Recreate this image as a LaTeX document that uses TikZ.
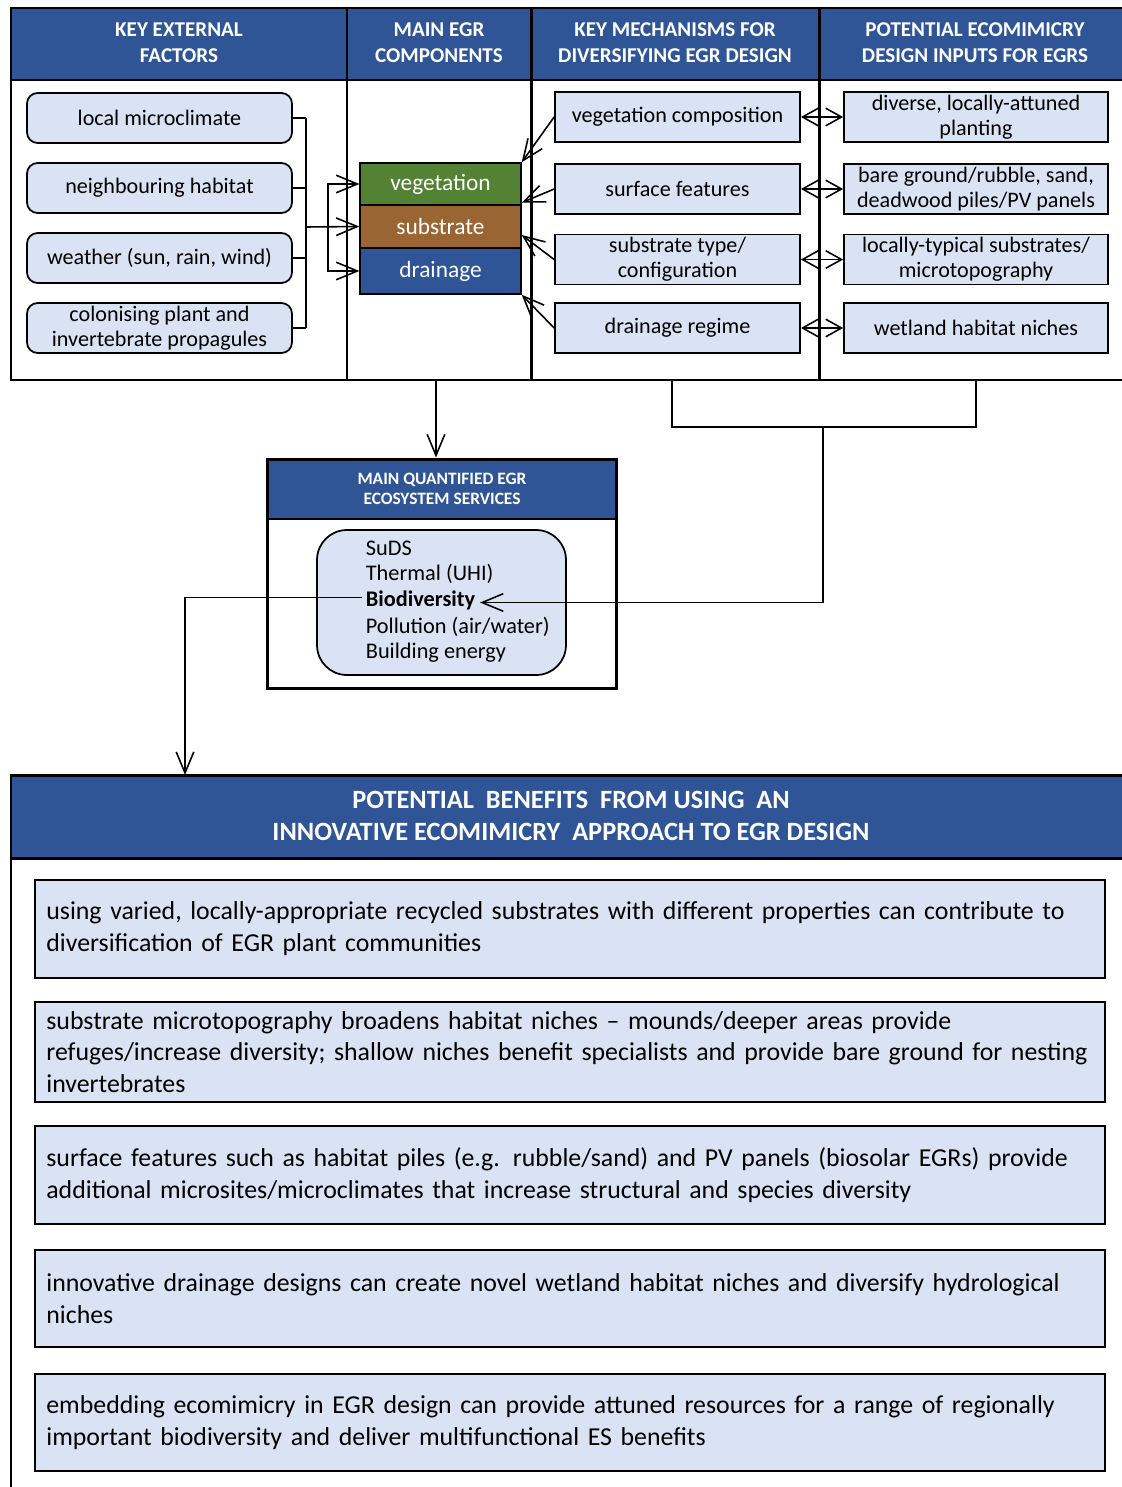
\documentclass[tikz,border=0pt]{standalone}
\usepackage{fontspec}
\setmainfont{Carlito}
\usetikzlibrary{arrows.meta}
\definecolor{hdrblue}{RGB}{47,85,151}
\definecolor{boxblue}{RGB}{218,227,243}
\definecolor{veggreen}{RGB}{84,130,53}
\definecolor{subbrown}{RGB}{153,102,51}
\begin{document}
\begin{tikzpicture}[x=0.02cm,y=-0.02cm,
    frame/.style={line width=1.7pt},
    hdr/.style={text=white,align=center,font=\bfseries\fontsize{12}{14.7}\selectfont},
    factor/.style={draw,line width=1pt,fill=boxblue,rounded corners=6pt,minimum width=5.3cm,minimum height=1cm,align=center,inner sep=1pt,font=\fontsize{12.6}{14.2}\selectfont},
    mech/.style={factor,rounded corners=0pt,minimum width=4.9cm},
    input/.style={mech,minimum width=5.28cm},
    comp/.style={draw,line width=0.8pt,minimum width=3.22cm,text=white,font=\fontsize{13.3}{14}\selectfont},
    benefit/.style={draw,line width=1pt,fill=boxblue,minimum width=21.4cm,text width=20.95cm,align=left,font=\fontsize{14.7}{18.1}\selectfont},
    estext/.style={anchor=west,inner sep=2pt,font=\fontsize{12.7}{14}\selectfont},
    arr/.style={line width=0.9pt,-{Straight Barb[length=12pt,width=10pt]}},
    dbl/.style={line width=0.9pt,{Straight Barb[length=9pt,width=10pt]}-{Straight Barb[length=9pt,width=10pt]}}
  ]
  \useasboundingbox (0,0) rectangle (1122,1487);
  \clip (0,0) rectangle (1122,1487);

  % top table
  \fill[hdrblue] (11,8) rectangle (1135,80);
  \draw[frame] (11,8) rectangle (1135,380);
  \draw[frame] (11,80) -- (1135,80);
  \foreach \x in {347,531,819}
    \draw[frame] (\x,8) -- (\x,380);

  \node[hdr] (h1) at (179,43) {KEY EXTERNAL\\FACTORS};
  \node[hdr] (h2) at (439,43) {MAIN EGR\\COMPONENTS};
  \node[hdr] (h3) at (675,43) {KEY MECHANISMS FOR\\DIVERSIFYING EGR DESIGN};
  \node[hdr] (h4) at (975,43) {POTENTIAL ECOMIMICRY\\DESIGN INPUTS FOR EGRS};

  % external factors
  \node[factor] (lm) at (159.5,118) {local microclimate};
  \node[factor] (nh) at (159.5,188) {neighbouring habitat};
  \node[factor] (ws) at (159.5,258) {weather (sun, rain, wind)};
  \node[factor] (cp) at (159.5,328) {colonising plant and\\invertebrate propagules};

  % components
  \node[comp,fill=veggreen,minimum height=0.84cm] (veg) at (440.5,184) {vegetation};
  \node[comp,fill=subbrown,minimum height=0.86cm] (sub) at (440.5,226.5) {substrate};
  \node[comp,fill=hdrblue,minimum height=0.92cm] (drn) at (440.5,271) {drainage};

  % mechanisms and design inputs
  \node[mech] (m1) at (677.5,117) {vegetation composition};
  \node[mech] (m2) at (677.5,189) {surface features};
  \node[mech] (m3) at (677.5,259.5) {substrate type/\\configuration};
  \node[mech] (m4) at (677.5,328) {drainage regime};
  \node[input] (d1) at (976,117) {diverse, locally-attuned\\planting};
  \node[input] (d2) at (976,189) {bare ground/rubble, sand,\\deadwood piles/PV panels};
  \node[input] (d3) at (976,259.5) {locally-typical substrates/\\microtopography};
  \node[input] (d4) at (976,328) {wetland habitat niches};

  % factors into components
  \coordinate (brk) at (306,227);
  \coordinate (split) at (328,227);
  \foreach \n in {lm,nh,ws,cp}
    \draw[line width=0.9pt] (\n.east) -- (\n.east -| brk);
  \draw[line width=0.9pt] (lm.east -| brk) -- (cp.east -| brk);
  \draw[arr] (brk) -- (sub.west);
  \draw[arr] (split) |- (veg.west);
  \draw[arr] (split) |- (drn.west);

  % mechanisms into components
  \draw[arr] (m1.west) -- (veg.north east);
  \draw[arr] (m2.west) -- ([yshift=0.06cm]veg.south east);
  \draw[arr] (m3.west) -- ([yshift=-0.17cm]sub.east);
  \draw[arr] (m4.west) -- (drn.south east);
  \foreach \i in {1,...,4}
    \draw[dbl] (m\i.east) -- (d\i.west);

  % ecosystem services
  \fill[hdrblue] (267,459) rectangle (617,519);
  \node[draw,line width=1.7pt,minimum width=7cm,minimum height=4.6cm] (esf) at (442,574) {};
  \draw[frame] (267,519) -- (617,519);
  \node[hdr,font=\bfseries\fontsize{9.9}{11.3}\selectfont] (esh) at (442,489) {MAIN QUANTIFIED EGR\\ECOSYSTEM SERVICES};
  \node[draw,line width=1pt,fill=boxblue,rounded corners=17pt,minimum width=4.98cm,minimum height=2.9cm] (esl) at (441.5,602.5) {};
  \node[estext] (suds) at (362,548) {SuDS};
  \node[estext] (uhi) at (362,574) {Thermal (UHI)};
  \node[estext] (bio) at (362,600) {\bfseries Biodiversity};
  \node[estext] (pol) at (362,627) {Pollution (air/water)};
  \node[estext] (nrg) at (362,653) {Building energy};

  \coordinate (cmp) at (436,380);
  \draw[arr] (cmp) -- (cmp |- esf.north);
  \coordinate (ml) at (672,380);
  \coordinate (mr) at (976,380);
  \coordinate (join) at (823,427);
  \draw[line width=0.9pt] (ml) |- (join) -| (mr);
  \draw[arr] (join) |- ([xshift=0.02cm,yshift=-0.05cm]bio.east);

  % benefits
  \fill[hdrblue] (11,775) rectangle (1135,858);
  \draw[frame] (11,1500) -- (11,775) -- (1135,775);
  \draw[frame] (11,858) -- (1135,858);
  \node[hdr,font=\bfseries\fontsize{15}{18}\selectfont] (bh) at (571,816) {POTENTIAL\ \ BENEFITS\ \ FROM USING\ \ AN\\INNOVATIVE ECOMIMICRY\ \ APPROACH TO EGR DESIGN};
  \coordinate (drop) at (185,775);
  \draw[arr] ([yshift=0.05cm]bio.west) -| (drop);

  \node[benefit,minimum height=1.96cm] (b1) at (570,929) {using varied, locally-appropriate recycled substrates with different properties can contribute to\\diversification of EGR plant communities};
  \node[benefit,minimum height=2cm] (b2) at (570,1052) {substrate microtopography broadens habitat niches – mounds/deeper\ areas provide\\refuges/increase diversity; shallow niches benefit specialists and provide bare ground for nesting\\invertebrates};
  \node[benefit,minimum height=1.96cm] (b3) at (570,1175) {surface features such as habitat piles (e.g. rubble/sand) and PV panels (biosolar EGRs) provide\\additional microsites/microclimates that increase structural and species diversity};
  \node[benefit,minimum height=1.94cm] (b4) at (570,1298.5) {innovative drainage designs can create novel wetland habitat niches and diversify hydrological\\niches};
  \node[benefit,minimum height=1.94cm] (b5) at (570,1422.5) {embedding ecomimicry in EGR design can provide attuned\ resources for a range of regionally\\important biodiversity and deliver multifunctional ES benefits};
\end{tikzpicture}
\end{document}
